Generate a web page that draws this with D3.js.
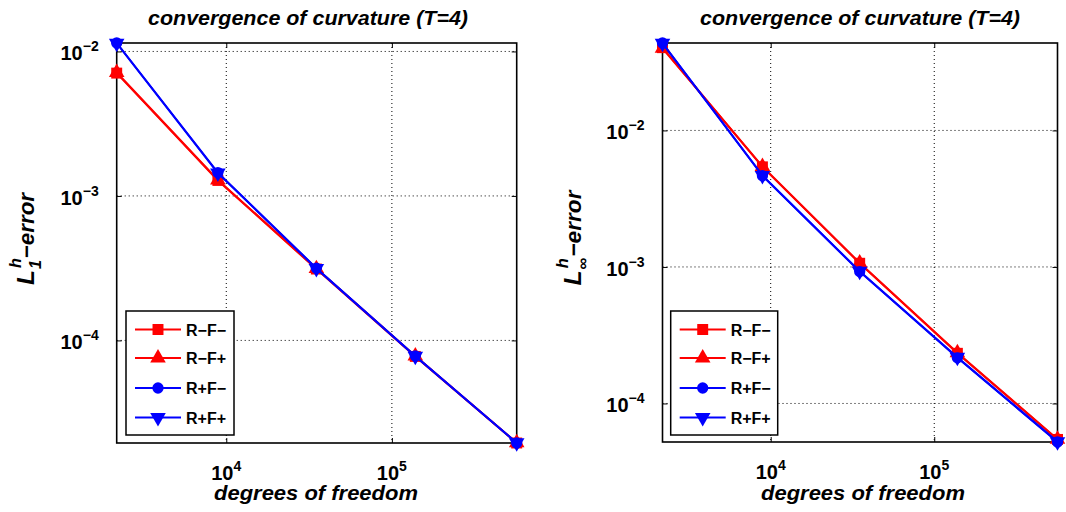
<!DOCTYPE html>
<html>
<head>
<meta charset="utf-8">
<script src="https://cdn.jsdelivr.net/npm/d3@7"></script>
<style>
  body { margin: 0; background: #fff; }
  text { font-family: "Liberation Sans", Arial, Helvetica, sans-serif; fill: #000; }
</style>
</head>
<body>
<script>
// degrees of freedom on the x axis (same for both panels)
const dofs = [2180, 8900, 35000, 138500, 567000];
const seriesNames = ["R\u2212F\u2212", "R\u2212F+", "R+F\u2212", "R+F+"];
const xTicks = [1e4, 1e5];

// L1^h error
const l1RmFm = [7.08e-3, 1.28e-3, 3.12e-4, 7.75e-5, 1.95e-5];
const l1RmFp = [7.15e-3, 1.29e-3, 3.14e-4, 7.8e-5, 1.96e-5];
const l1RpFm = [1.144e-2, 1.45e-3, 3.16e-4, 7.8e-5, 1.95e-5];
const l1RpFp = [1.14e-2, 1.44e-3, 3.15e-4, 7.78e-5, 1.96e-5];
const l1Ticks = [1e-2, 1e-3, 1e-4];

// Linf^h error
const linfRmFm = [4.04e-2, 5.41e-3, 1.064e-3, 2.33e-4, 5.45e-5];
const linfRmFp = [4.0e-2, 5.45e-3, 1.07e-3, 2.35e-4, 5.47e-5];
const linfRpFm = [4.37e-2, 4.66e-3, 9.25e-4, 2.16e-4, 5.22e-5];
const linfRpFp = [4.35e-2, 4.68e-3, 9.3e-4, 2.18e-4, 5.25e-5];
const linfTicks = [1e-2, 1e-3, 1e-4];

const colors = ["#ff0000", "#ff0000", "#0000ff", "#0000ff"];
const symbols = [
  { type: d3.symbolSquare, size: 120, rot: 0 },
  { type: d3.symbolTriangle, size: 105, rot: 0 },
  { type: d3.symbolCircle, size: 100, rot: 0 },
  { type: d3.symbolTriangle, size: 105, rot: 180 }
];

const svg = d3.select("body").append("svg")
  .attr("width", 1066)
  .attr("height", 512);

function supLabel(sel, base, exp) {
  sel.text(base);
  sel.append("tspan").attr("dy", -9).attr("font-size", 14).text(exp);
}

function expOf(v) {
  const e = Math.round(Math.log10(v));
  return e < 0 ? "\u2212" + (-e) : String(e);
}

function drawPanel(p) {
  const x = d3.scaleLog().domain(d3.extent(dofs)).range([p.left, p.right]);
  const allVals = p.series.flat();
  const y = d3.scaleLog().domain(d3.extent(allVals)).range([p.bottom, p.top]);

  const g = svg.append("g");

  // grid
  g.selectAll("line.gx").data(xTicks).enter().append("line")
    .attr("x1", d => x(d)).attr("x2", d => x(d))
    .attr("y1", p.top).attr("y2", p.bottom)
    .attr("stroke", "#000").attr("stroke-width", 1).attr("stroke-dasharray", "1,3");
  g.selectAll("line.gy").data(p.yTicks).enter().append("line")
    .attr("y1", d => y(d)).attr("y2", d => y(d))
    .attr("x1", p.left).attr("x2", p.right)
    .attr("stroke", "#000").attr("stroke-width", 1).attr("stroke-dasharray", "1,3");

  // axes via d3 (inward ticks on all four sides)
  const tk = 5;
  g.append("g").attr("transform", `translate(0,${p.bottom})`)
    .call(d3.axisBottom(x).tickValues(xTicks).tickSizeInner(-tk).tickSizeOuter(0).tickFormat(""))
    .call(a => a.select(".domain").remove());
  g.append("g").attr("transform", `translate(0,${p.top})`)
    .call(d3.axisTop(x).tickValues(xTicks).tickSizeInner(-tk).tickSizeOuter(0).tickFormat(""))
    .call(a => a.select(".domain").remove());
  g.append("g").attr("transform", `translate(${p.left},0)`)
    .call(d3.axisLeft(y).tickValues(p.yTicks).tickSizeInner(-tk).tickSizeOuter(0).tickFormat(""))
    .call(a => a.select(".domain").remove());
  g.append("g").attr("transform", `translate(${p.right},0)`)
    .call(d3.axisRight(y).tickValues(p.yTicks).tickSizeInner(-tk).tickSizeOuter(0).tickFormat(""))
    .call(a => a.select(".domain").remove());

  g.append("rect")
    .attr("x", p.left).attr("y", p.top)
    .attr("width", p.right - p.left).attr("height", p.bottom - p.top)
    .attr("fill", "none").attr("stroke", "#000").attr("stroke-width", 1.6);

  // tick labels
  g.selectAll("text.xt").data(xTicks).enter().append("text")
    .attr("x", d => x(d)).attr("y", p.bottom + 37)
    .attr("text-anchor", "middle")
    .attr("font-size", 20).attr("font-weight", "bold")
    .each(function(d) { supLabel(d3.select(this), "10", expOf(d)); });
  g.selectAll("text.yt").data(p.yTicks).enter().append("text")
    .attr("x", p.left - 18).attr("y", d => y(d) + 9)
    .attr("text-anchor", "end")
    .attr("font-size", 20).attr("font-weight", "bold")
    .each(function(d) { supLabel(d3.select(this), "10", expOf(d)); });

  // series
  const line = d3.line().x((d, i) => x(dofs[i])).y(d => y(d));
  p.series.forEach((vals, si) => {
    g.append("path").datum(vals)
      .attr("d", line)
      .attr("fill", "none").attr("stroke", colors[si]).attr("stroke-width", 2);
    g.selectAll(null).data(vals).enter().append("path")
      .attr("d", d3.symbol().type(symbols[si].type).size(symbols[si].size))
      .attr("transform", (d, i) => `translate(${x(dofs[i])},${y(d)}) rotate(${symbols[si].rot})`)
      .attr("fill", colors[si]);
  });

  // title
  g.append("text")
    .attr("x", p.titleX).attr("y", 25)
    .attr("text-anchor", "middle")
    .attr("font-size", 20).attr("font-weight", "bold").attr("font-style", "italic")
    .attr("textLength", 320).attr("lengthAdjust", "spacingAndGlyphs")
    .text("convergence of curvature (T=4)");

  // x label
  g.append("text")
    .attr("x", p.xLabelX).attr("y", 500)
    .attr("text-anchor", "middle")
    .attr("font-size", 20).attr("font-weight", "bold").attr("font-style", "italic")
    .attr("textLength", 204).attr("lengthAdjust", "spacingAndGlyphs")
    .text("degrees of freedom");

  // y label: L_sub^h-error, rotated
  const yl = g.append("g")
    .attr("transform", `translate(${p.yLabelX},${p.yLabelY}) rotate(-90)`);
  const inner = yl.append("g");
  const tL = inner.append("text").attr("font-size", 24).attr("font-weight", "bold").attr("font-style", "italic").text("L");
  const wL = tL.node().getComputedTextLength();
  const tSub = inner.append("text").attr("font-size", 16).attr("font-weight", "bold").attr("font-style", p.subItalic ? "italic" : "normal")
    .attr("x", wL + 1).attr("y", 7).text(p.sub);
  const tSup = inner.append("text").attr("font-size", 16).attr("font-weight", "bold").attr("font-style", "italic")
    .attr("x", wL + 2).attr("y", -13).text("h");
  const wS = Math.max(tSub.node().getComputedTextLength(), tSup.node().getComputedTextLength());
  const tE = inner.append("text").attr("font-weight", "bold").attr("font-style", "italic").attr("font-size", 22)
    .attr("x", wL + wS + 2).text("\u2212error");
  const total = wL + wS + 2 + tE.node().getComputedTextLength();
  const k = p.yLabelLen / total;
  inner.attr("transform", `scale(${k},1) translate(${-total / 2},0)`);

  // legend
  const lg = g.append("g").attr("transform", `translate(${p.left + p.legDx},${p.legTop})`);
  lg.append("rect").attr("width", p.legW).attr("height", 124)
    .attr("fill", "#fff").attr("stroke", "#000").attr("stroke-width", 1.5);
  const rowY = [18.5, 47, 77, 106.5];
  seriesNames.forEach((name, si) => {
    const r = lg.append("g").attr("transform", `translate(0,${rowY[si]})`);
    r.append("line").attr("x1", 9).attr("x2", 55).attr("y1", 0).attr("y2", 0)
      .attr("stroke", colors[si]).attr("stroke-width", 2);
    r.append("path")
      .attr("d", d3.symbol().type(symbols[si].type).size(symbols[si].size))
      .attr("transform", `translate(32,0) rotate(${symbols[si].rot})`)
      .attr("fill", colors[si]);
    r.append("text").attr("x", 60).attr("y", 6)
      .attr("font-size", 16).attr("font-weight", "bold").text(name);
  });
}

drawPanel({
  left: 116.7, right: 516.7, top: 43, bottom: 443,
  series: [l1RmFm, l1RmFp, l1RpFm, l1RpFp], yTicks: l1Ticks,
  titleX: 308, xLabelX: 316, yLabelX: 34, yLabelY: 239, yLabelLen: 92, sub: "1", subItalic: true,
  legDx: 9.3, legTop: 311, legW: 108
});
drawPanel({
  left: 662.5, right: 1057.5, top: 43, bottom: 442,
  series: [linfRmFm, linfRmFp, linfRpFm, linfRpFp], yTicks: linfTicks,
  titleX: 860, xLabelX: 863, yLabelX: 581, yLabelY: 238, yLabelLen: 95, sub: "\u221e", subItalic: false,
  legDx: 8.2, legTop: 311, legW: 107
});
</script>
</body>
</html>
